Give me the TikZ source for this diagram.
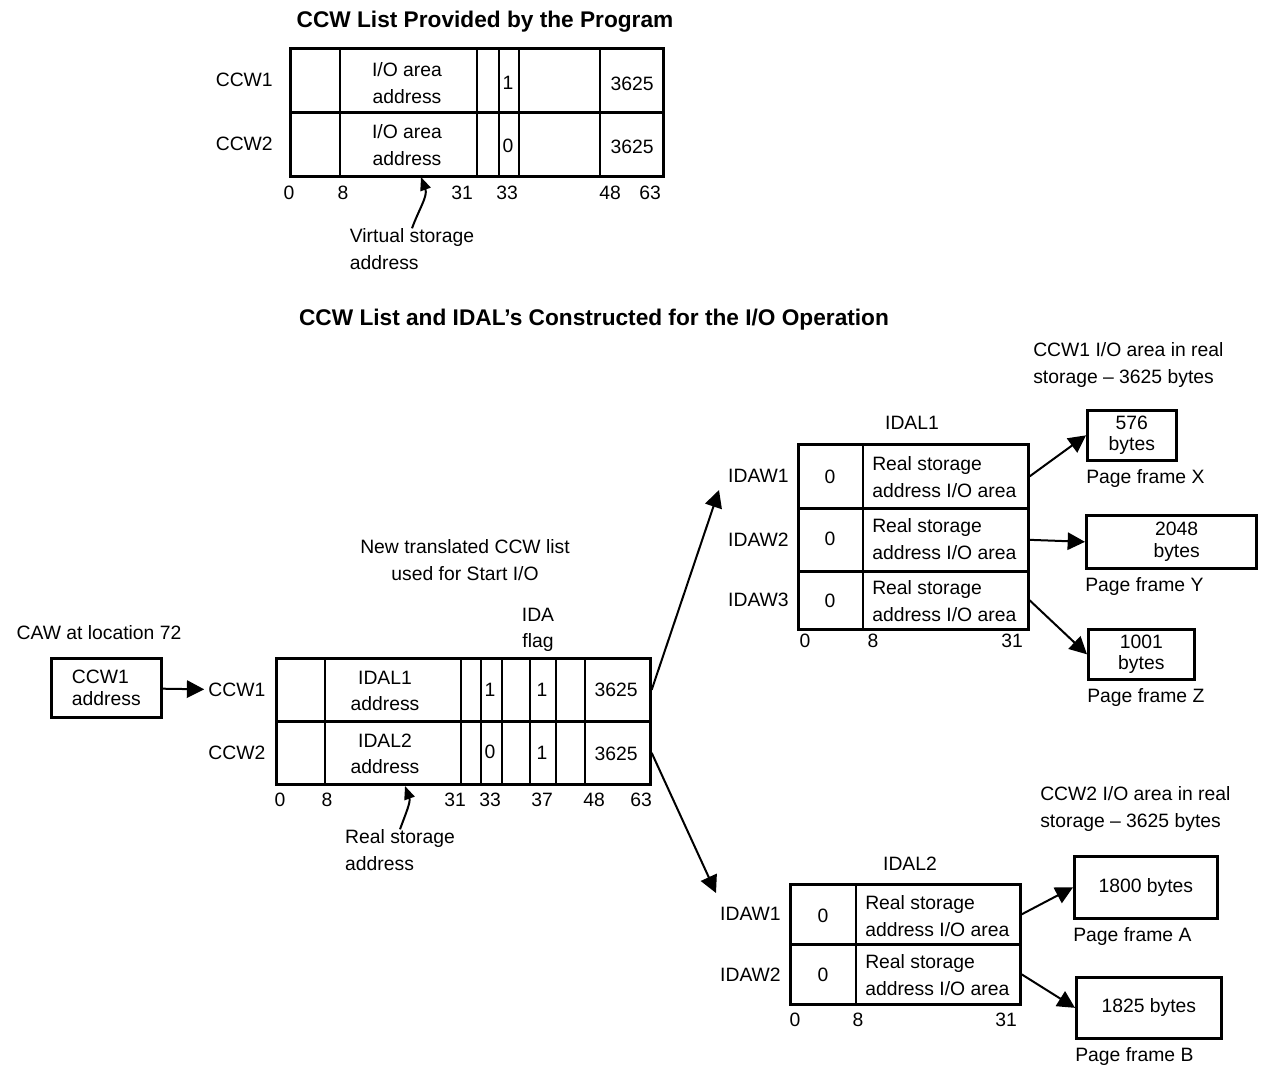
\documentclass[tikz,border=0pt]{standalone}
\usepackage{fontspec}
\setmainfont{Liberation Sans}
\usetikzlibrary{arrows.meta,positioning}
\tikzset{txt/.style={font=\fontsize{14.5}{20}\selectfont, inner sep=0pt, align=center}}
\tikzset{ttl/.style={font=\fontsize{17}{20}\selectfont\bfseries, inner sep=0pt}}

\begin{document}
\begin{tikzpicture}[
  x=0.75pt, y=-0.75pt,
  wrd/.style={draw, line width=2pt, anchor=north west, inner sep=0pt},
  frm/.style={draw, line width=2pt, anchor=north west, inner sep=0pt,
              align=center, font=\fontsize{14.5}{16}\selectfont},
  sep/.style={line width=1.3pt},
  arr/.style={-{Triangle[length=13pt, width=13pt]}, line width=1.5pt},
  sarr/.style={-{Triangle[length=10pt, width=8pt]}, line width=1.5pt},
]
 \useasboundingbox (0,0) rectangle (1267,1064);

 % CCW list from the program
 \node[ttl] (ttlp) at (485,22) {CCW List Provided by the Program};
 \node[wrd, minimum width=279.75pt, minimum height=48pt] (pc1) at (289,47) {};
 \node[wrd, minimum width=279.75pt, minimum height=48pt] (pc2) at (289,111) {};
 \foreach \x in {340,477,499,519,600} \draw[sep] (\x,47) -- (\x,175);
 \node[txt, left=12pt of pc1] (lpc1) {CCW1};
 \node[txt, left=12pt of pc2] (lpc2) {CCW2};
 \node[txt] (pa1) at (407,83) {I/O area\\address};
 \node[txt] (pa2) at (407,145) {I/O area\\address};
 \node[txt] (pf1) at (508,83) {1};
 \node[txt] (pf2) at (508,146) {0};
 \node[txt] (pn1) at (632,84) {3625};
 \node[txt] (pn2) at (632,147) {3625};
 \foreach \x/\b in {289/0,343/8,462/31,507/33,610/48,650/63}
   \node[txt] (pb\b) at (\x,193) {\b};
 \node[txt, align=left] (vsa) at (412,249) {Virtual storage\\address};
 \coordinate (vtip) at (421,177);
 \draw[sarr] (vsa.north) to[out=70, in=-70] (vtip);

 % translated CCW list
 \node[ttl] (ttlt) at (594,320) {CCW List and IDAL's Constructed for the I/O Operation};
 \node[txt] (newl) at (465,560) {New translated CCW list\\used for Start I/O};
 \node[txt] (ida) at (538,630) {IDA\\flag};
 \node[txt] (cawl) at (99,633) {CAW at location 72};
 \node[frm, align=left, minimum width=82.5pt, minimum height=44.25pt] (caw) at (50,657) {CCW1\\address};
 \node[wrd, minimum width=280.5pt, minimum height=47.25pt] (tc1) at (275,657) {};
 \node[wrd, minimum width=280.5pt, minimum height=47.25pt] (tc2) at (275,720) {};
 \foreach \x in {325,461,481,502,530,556,585} \draw[sep] (\x,657) -- (\x,783);
 \node[txt, left=7pt of tc1] (ltc1) {CCW1};
 \node[txt, left=7pt of tc2] (ltc2) {CCW2};
 \node[txt] (ta1) at (385,691) {IDAL1\\address};
 \node[txt] (ta2) at (385,754) {IDAL2\\address};
 \node[txt] (tf1) at (490,690) {1};
 \node[txt] (tf2) at (490,752) {0};
 \node[txt] (ti1) at (542,690) {1};
 \node[txt] (ti2) at (542,753) {1};
 \node[txt] (tn1) at (616,690) {3625};
 \node[txt] (tn2) at (616,754) {3625};
 \foreach \x/\b in {280/0,327/8,455/31,490/33,542/37,594/48,641/63}
   \node[txt] (tb\b) at (\x,800) {\b};
 \node[txt, align=left] (rsa) at (400,850) {Real storage\\address};
 \coordinate (rtip) at (405,786);
 \draw[sarr] (rsa.north) to[out=70, in=-70] (rtip);
 \draw[arr, shorten >=3pt] (caw) -- (ltc1);

 % IDAL1 and its page frames
 \node[txt] (idal1) at (912,423) {IDAL1};
 \node[wrd, minimum width=172.5pt, minimum height=48pt] (a1) at (797,443) {};
 \node[wrd, minimum width=172.5pt, minimum height=47.25pt] (a2) at (797,507) {};
 \node[wrd, minimum width=172.5pt, minimum height=43.5pt] (a3) at (797,570) {};
 \draw[sep] (863,443) -- (863,628);
 \node[txt, left=6pt of a1] (la1) {IDAW1};
 \node[txt, left=6pt of a2] (la2) {IDAW2};
 \node[txt, left=6pt of a3] (la3) {IDAW3};
 \foreach \y/\r in {477/1,539/2,601/3} {
   \node[txt] (az\r) at (830,\y) {0};
   \node[txt, align=left, anchor=west] (as\r) at (872,\y) {Real storage\\address I/O area};
 }
 \foreach \x/\b in {805/0,873/8,1012/31}
   \node[txt] (ab\b) at (\x,641) {\b};
 \node[txt, align=left, anchor=west] (io1) at (1033,365) {CCW1 I/O area in real\\storage -- 3625 bytes};
 \node[frm, minimum width=66.75pt, minimum height=37.5pt] (fx) at (1086,409) {576\\bytes};
 \node[frm, minimum width=127.5pt, minimum height=39.75pt] (fy) at (1085,514) {\hspace{8pt}2048\\\hspace{8pt}bytes};
 \node[frm, minimum width=79.5pt, minimum height=37.5pt] (fz) at (1087,628) {1001\\bytes};
 \node[txt, below=6pt of fx.south west, anchor=north west] (lfx) {Page frame X};
 \node[txt, below=6pt of fy.south west, anchor=north west] (lfy) {Page frame Y};
 \node[txt, below=6pt of fz.south west, anchor=north west] (lfz) {Page frame Z};
 \draw[arr] (a1.east) -- (fx.west);
 \draw[arr] (a2.east) -- (fy.west);
 \draw[arr] (a3.east) -- (fz.west);

 % IDAL2 and its page frames
 \node[txt] (idal2) at (910,864) {IDAL2};
 \node[wrd, minimum width=172.5pt, minimum height=45pt] (b1) at (789,883) {};
 \node[wrd, minimum width=172.5pt, minimum height=45pt] (b2) at (789,943) {};
 \draw[sep] (856,883) -- (856,1003);
 \node[txt, left=6pt of b1] (lb1) {IDAW1};
 \node[txt, left=6pt of b2] (lb2) {IDAW2};
 \foreach \y/\r in {916/1,975/2} {
   \node[txt] (bz\r) at (823,\y) {0};
   \node[txt, align=left, anchor=west] (bs\r) at (865,\y) {Real storage\\address I/O area};
 }
 \foreach \x/\b in {795/0,858/8,1006/31}
   \node[txt] (bb\b) at (\x,1020) {\b};
 \node[txt, align=left, anchor=west] (io2) at (1040,809) {CCW2 I/O area in real\\storage -- 3625 bytes};
 \node[frm, minimum width=107.25pt, minimum height=46.5pt] (fa) at (1073,855) {1800 bytes};
 \node[frm, minimum width=108.75pt, minimum height=45.75pt] (fb) at (1075,976) {1825 bytes};
 \node[txt, below=6pt of fa.south west, anchor=north west] (lfa) {Page frame A};
 \node[txt, below=6pt of fb.south west, anchor=north west] (lfb) {Page frame B};
 \draw[arr] (b1.east) -- (fa.west);
 \draw[arr] (b2.east) -- (fb.west);

 % from the CCWs to the IDALs
 \coordinate (in1) at (719,490);
 \coordinate (in2) at (716,893);
 \draw[arr] (tc1.east) -- (in1);
 \draw[arr] (tc2.east) -- (in2);
\end{tikzpicture}
\end{document}
